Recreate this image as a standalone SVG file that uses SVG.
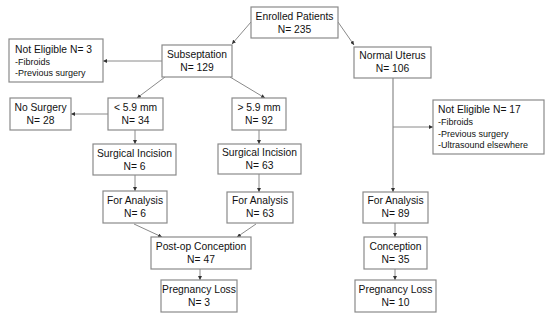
<svg xmlns="http://www.w3.org/2000/svg" width="550" height="320" viewBox="0 0 550 320">
<style>
.box{fill:#fff;stroke:#8a8a8a;stroke-width:1.2}
.t{font-family:"Liberation Sans",Arial,sans-serif;font-size:10.3px;fill:#111;text-anchor:middle}
.s{font-family:"Liberation Sans",Arial,sans-serif;font-size:9px;fill:#111}
.l{font-family:"Liberation Sans",Arial,sans-serif;font-size:10.3px;fill:#111}
.c{stroke:#8a8a8a;stroke-width:1;fill:none;marker-end:url(#ah)}
.n{stroke:#8a8a8a;stroke-width:1.2;fill:none}
</style>
<defs>
<marker id="ah" viewBox="0 0 6 6" refX="6" refY="3" markerWidth="4" markerHeight="4" orient="auto" markerUnits="userSpaceOnUse">
<path d="M0,0 L6,3 L0,6 Z" fill="#333"/>
</marker>
</defs>
<rect width="550" height="320" fill="#fff"/>
<g id="connectors">
<line class="c" x1="251" y1="22" x2="232" y2="44"/>
<line class="c" x1="338" y1="22" x2="354" y2="45"/>
<line class="c" x1="162" y1="61" x2="103" y2="61"/>
<line class="c" x1="165" y1="77" x2="137" y2="98"/>
<line class="c" x1="230" y1="77" x2="265" y2="98"/>
<line class="c" x1="108" y1="114" x2="71" y2="114"/>
<line class="c" x1="135" y1="130" x2="135" y2="144"/>
<line class="c" x1="259" y1="130" x2="259" y2="144"/>
<line class="c" x1="135" y1="175" x2="135" y2="191"/>
<line class="c" x1="259" y1="174" x2="259" y2="192"/>
<line class="c" x1="134" y1="224" x2="162" y2="237"/>
<line class="c" x1="256" y1="224" x2="237" y2="237"/>
<line class="c" x1="200" y1="269" x2="200" y2="280"/>
<line class="n" x1="393" y1="78" x2="393" y2="185"/>
<line class="c" x1="393" y1="185" x2="393" y2="192"/>
<line class="c" x1="393" y1="127" x2="433" y2="127"/>
<line class="c" x1="395" y1="223" x2="395" y2="237"/>
<line class="c" x1="395" y1="269" x2="395" y2="280"/>
</g>
<g id="enrolled"><rect class="box" x="251" y="7" width="87" height="31"/><text class="t" x="294.5" y="19.5">Enrolled Patients</text><text class="t" x="294.5" y="32.5">N= 235</text></g>
<g id="subseptation"><rect class="box" x="162" y="45" width="70" height="32"/><text class="t" x="197" y="57.5">Subseptation</text><text class="t" x="197" y="70.5">N= 129</text></g>
<g id="normal"><rect class="box" x="354" y="47" width="77" height="31"/><text class="t" x="392.5" y="59">Normal Uterus</text><text class="t" x="392.5" y="72">N= 106</text></g>
<g id="ne3"><rect class="box" x="9" y="39" width="94" height="43"/><text class="l" x="15" y="53">Not Eligible N= 3</text><text class="s" x="15" y="65">-Fibroids</text><text class="s" x="15" y="76">-Previous surgery</text></g>
<g id="ne17"><rect class="box" x="433" y="100" width="111" height="54"/><text class="l" x="438" y="113">Not Eligible N= 17</text><text class="s" x="438" y="125">-Fibroids</text><text class="s" x="438" y="136.5">-Previous surgery</text><text class="s" x="438" y="148">-Ultrasound elsewhere</text></g>
<g id="nosurgery"><rect class="box" x="10" y="98" width="61" height="32"/><text class="t" x="40.5" y="110.5">No Surgery</text><text class="t" x="40.5" y="123.5">N= 28</text></g>
<g id="lt59"><rect class="box" x="108" y="98" width="55" height="32"/><text class="t" x="135.5" y="110.5">&lt; 5.9 mm</text><text class="t" x="135.5" y="123.5">N= 34</text></g>
<g id="gt59"><rect class="box" x="232" y="98" width="54" height="32"/><text class="t" x="259" y="110.5">&gt; 5.9 mm</text><text class="t" x="259" y="123.5">N= 92</text></g>
<g id="si1"><rect class="box" x="93" y="144" width="83" height="31"/><text class="t" x="134.5" y="156.5">Surgical Incision</text><text class="t" x="134.5" y="169.5">N= 6</text></g>
<g id="si2"><rect class="box" x="218" y="144" width="83" height="30"/><text class="t" x="259.5" y="156">Surgical Incision</text><text class="t" x="259.5" y="169">N= 63</text></g>
<g id="fa1"><rect class="box" x="103" y="191" width="64" height="32"/><text class="t" x="135" y="203.5">For Analysis</text><text class="t" x="135" y="216.5">N= 6</text></g>
<g id="fa2"><rect class="box" x="227" y="192" width="66" height="31"/><text class="t" x="260" y="204">For Analysis</text><text class="t" x="260" y="217">N= 63</text></g>
<g id="postop"><rect class="box" x="151" y="237" width="100" height="32"/><text class="t" x="201" y="249.5">Post-op Conception</text><text class="t" x="201" y="262.5">N= 47</text></g>
<g id="pl1"><rect class="box" x="161" y="280" width="76" height="32"/><text class="t" x="199" y="292.5">Pregnancy Loss</text><text class="t" x="199" y="305.5">N= 3</text></g>
<g id="fa3"><rect class="box" x="363" y="192" width="65" height="31"/><text class="t" x="395.5" y="204">For Analysis</text><text class="t" x="395.5" y="217">N= 89</text></g>
<g id="conception"><rect class="box" x="364" y="237" width="63" height="32"/><text class="t" x="395.5" y="249.5">Conception</text><text class="t" x="395.5" y="262.5">N= 35</text></g>
<g id="pl2"><rect class="box" x="355" y="280" width="81" height="32"/><text class="t" x="395.5" y="292.5">Pregnancy Loss</text><text class="t" x="395.5" y="305.5">N= 10</text></g>
</svg>
